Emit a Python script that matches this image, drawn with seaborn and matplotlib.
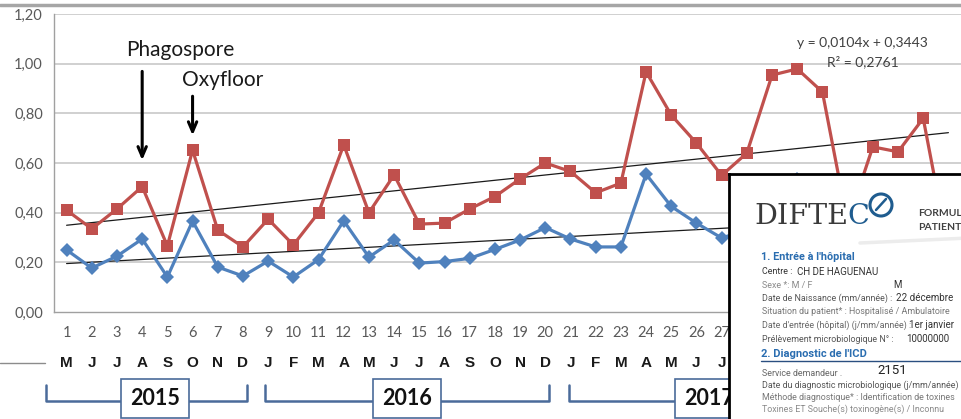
import pandas as pd
import matplotlib.pyplot as plt
import seaborn as sns
import numpy as np
from matplotlib.lines import Line2D
from matplotlib.patches import Circle

# monthly values, May 2015 -> April 2018
month_idx = list(range(1, 37))
month_letters = ['M', 'J', 'J', 'A', 'S', 'O', 'N', 'D',
                 'J', 'F', 'M', 'A', 'M', 'J', 'J', 'A', 'S', 'O', 'N', 'D',
                 'J', 'F', 'M', 'A', 'M', 'J', 'J', 'A', 'S', 'O', 'N', 'D',
                 'J', 'F', 'M', 'A']
red_vals = [0.41, 0.335, 0.415, 0.505, 0.266, 0.652, 0.33, 0.262, 0.374, 0.27,
            0.40, 0.673, 0.40, 0.552, 0.354, 0.358, 0.415, 0.465, 0.536, 0.60,
            0.566, 0.48, 0.519, 0.967, 0.793, 0.68, 0.55, 0.64, 0.954, 0.979,
            0.886, 0.36, 0.665, 0.645, 0.78, 0.25]
blue_vals = [0.25, 0.177, 0.225, 0.294, 0.141, 0.366, 0.181, 0.145, 0.205, 0.141,
             0.211, 0.367, 0.221, 0.29, 0.197, 0.203, 0.216, 0.252, 0.29, 0.34,
             0.294, 0.262, 0.262, 0.555, 0.425, 0.358, 0.298, 0.33, 0.49, 0.535,
             0.46, 0.20, 0.36, 0.35, 0.42, 0.15]
years = ['2015', '2016', '2017']
year_months = [(1, 8), (9, 20), (21, 32)]
y_ticks = [0.0, 0.2, 0.4, 0.6, 0.8, 1.0, 1.2]

df = pd.DataFrame({'mois': month_idx, 'rouge': red_vals, 'bleu': blue_vals})

RED = '#C0504D'
BLUE = '#4F81BD'
GRAY = '#595959'

sns.set_style('white')
plt.rcParams['font.family'] = ['Lato', 'DejaVu Sans']

W, H = 961, 419
fig = plt.figure(figsize=(9.61, 4.19), dpi=100)
ax = fig.add_axes([54 / W, (H - 312) / H, 1 - 54 / W, 298 / H])

for v in y_ticks[1:]:
    ax.axhline(v, color='#c4c4c4', lw=1.1, zorder=0)

sns.regplot(data=df, x='mois', y='rouge', scatter=False, ci=None, truncate=True,
            line_kws={'color': '#1a1a1a', 'lw': 0.9}, ax=ax)
sns.regplot(data=df, x='mois', y='bleu', scatter=False, ci=None, truncate=True,
            line_kws={'color': '#1a1a1a', 'lw': 0.9}, ax=ax)
sns.lineplot(data=df, x='mois', y='rouge', color=RED, lw=2.3, marker='s',
             markersize=9, markeredgewidth=0, ax=ax)
sns.lineplot(data=df, x='mois', y='bleu', color=BLUE, lw=2.3, marker='D',
             markersize=7.5, markeredgewidth=0, ax=ax)

ax.set_xlim(0.5, 0.5 + (W - 54) / 25.3)
ax.set_ylim(0, 1.2)
ax.set_yticks(y_ticks, [f'{v:.2f}'.replace('.', ',') for v in y_ticks])
ax.set_xticks(month_idx, [str(m) for m in month_idx])
ax.set_xticks(np.arange(0.5, 37, 1), minor=True)
ax.tick_params(axis='x', which='major', length=0, pad=10, labelsize=10.5, labelcolor=GRAY)
ax.tick_params(axis='x', which='minor', length=3, color='#a0a0a0', direction='out')
ax.tick_params(axis='y', length=3, color='#a0a0a0', pad=5, labelsize=10.5, labelcolor=GRAY)
ax.set_xlabel('')
ax.set_ylabel('')
for s in ['top', 'right']:
    ax.spines[s].set_visible(False)
for s in ['left', 'bottom']:
    ax.spines[s].set_color('#a0a0a0')
    ax.spines[s].set_linewidth(1)

# month letters and year brackets under the axis
trans = ax.get_xaxis_transform()
for m, letter in zip(month_idx, month_letters):
    ax.text(m, -0.171, letter, transform=trans, ha='center', va='center',
            fontsize=11, fontweight='bold', color='#1a1a1a',
            family=['Liberation Sans', 'DejaVu Sans'])
bracket_ends = [(0.2, 8.15), (8.87, 20.15), (20.96, 32.15)]
for yr, (a, b), (s, e) in zip(years, bracket_ends, year_months):
    ax.plot([a, a, b, b], [-0.245, -0.299, -0.299, -0.245], transform=trans,
            color='#4a6b9a', lw=1.8, clip_on=False)
    ax.text((s + e) / 2, -0.289, yr, transform=trans, ha='center', va='center',
            fontsize=15.5, fontweight='bold', color='#111111',
            bbox=dict(boxstyle='square,pad=0.42', fc='white', ec='#4a6b9a', lw=1.2))

# arrows
ax.annotate('', xy=(4, 0.60), xytext=(4, 0.98),
            arrowprops=dict(arrowstyle='->,head_length=0.7,head_width=0.3', lw=2.2, color='black'))
ax.text(5.5, 1.055, 'Phagospore', ha='center', va='center', fontsize=15, color='#1a1a1a')
ax.annotate('', xy=(6, 0.70), xytext=(6, 0.88),
            arrowprops=dict(arrowstyle='->,head_length=0.7,head_width=0.3', lw=2.2, color='black'))
ax.text(7.2, 0.935, 'Oxyfloor', ha='center', va='center', fontsize=15, color='#1a1a1a')

ax.text(32.6, 1.083, 'y = 0,0104x + 0,3443', ha='center', va='center', fontsize=10, color='#404040')
ax.text(32.6, 1.007, 'R² = 0,2761', ha='center', va='center', fontsize=10, color='#404040')

# frame lines of the slide
fig.add_artist(Line2D([0, 1], [1 - 5 / H, 1 - 5 / H], color='#a6a6a6', lw=2.5))
fig.add_artist(Line2D([0, 45 / W], [1 - 363 / H, 1 - 363 / H], color='#8c8c8c', lw=1))

# pasted form screenshot, bottom right
ov = fig.add_axes([729 / W, -0.02, 0.3, (H - 174) / H + 0.02])
ov.set_xlim(729, 729 + 0.3 * W)
ov.set_ylim(H + 0.02 * H, 174)
ov.set_xticks([])
ov.set_yticks([])
for s in ['right', 'bottom']:
    ov.spines[s].set_visible(False)
for s in ['left', 'top']:
    ov.spines[s].set_color('black')
    ov.spines[s].set_linewidth(2)
ov.set_facecolor('white')

ov.text(848, 217, 'DIFTE', ha='right', va='center', fontsize=20.5, color='#3a3a3a',
        family=['DejaVu Serif'])
ov.text(847, 217, 'C', ha='left', va='center', fontsize=20.5, color='#1f5c8f',
        family=['DejaVu Serif'])
ov.add_patch(Circle((881, 205), 11, fill=False, ec='#1f5c8f', lw=2.2))
ov.plot([876, 886], [210, 199], color='#1f5c8f', lw=1.8)
ov.text(918, 213, 'FORMUL', ha='left', va='center', fontsize=7.5, fontweight='bold', color='#404040')
ov.text(918, 227, 'PATIENT', ha='left', va='center', fontsize=7.5, fontweight='bold', color='#404040')
ov.plot([860, 990], [243, 237], color='#ececec', lw=2.5)

narrow = ['Roboto', 'DejaVu Sans']
head = '#2a6db0'
ov.text(761, 257, "1. Entrée à l'hôpital", ha='left', va='center', fontsize=7.8,
        fontweight='bold', color=head, family=narrow)
rows = [
    (272, 'Centre :', '#333333', [(797, 'CH DE HAGUENAU', '#333333')]),
    (285, 'Sexe *: M / F', '#8a8a8a', [(893, 'M', '#333333')]),
    (298, 'Date de Naissance (mm/année) :', '#555555', [(896, '22 décembre', '#333333')]),
    (311, 'Situation du patient* : Hospitalisé / Ambulatoire', '#777777', []),
    (325, "Date d'entrée (hôpital) (j/mm/année) :", '#666666', [(909, '1er janvier', '#333333')]),
    (339, 'Prélèvement microbiologique N° :', '#555555', [(906, '10000000', '#333333')]),
    (373, 'Service demandeur .', '#666666', []),
    (385, 'Date du diagnostic microbiologique (j/mm/année)', '#555555', []),
    (397, 'Méthode diagnostique* : Identification de toxines', '#777777', []),
    (409, 'Toxines ET Souche(s) toxinogène(s) / Inconnu', '#8a8a8a', []),
]
for y, label, col, extra in rows:
    ov.text(762, y, label, ha='left', va='center', fontsize=6.4, color=col, family=narrow)
    for x, txt, c in extra:
        ov.text(x, y, txt, ha='left', va='center', fontsize=7, color=c, family=narrow)
ov.text(761, 354, "2. Diagnostic de l'ICD", ha='left', va='center', fontsize=8,
        fontweight='bold', color=head, family=narrow)
ov.plot([761, 990], [361, 361], color='#2a4f80', lw=1)
ov.text(877, 371, '2151', ha='left', va='center', fontsize=9.5, color='#222222', family=narrow)

plt.savefig('out.png', dpi=100)
plt.close()
